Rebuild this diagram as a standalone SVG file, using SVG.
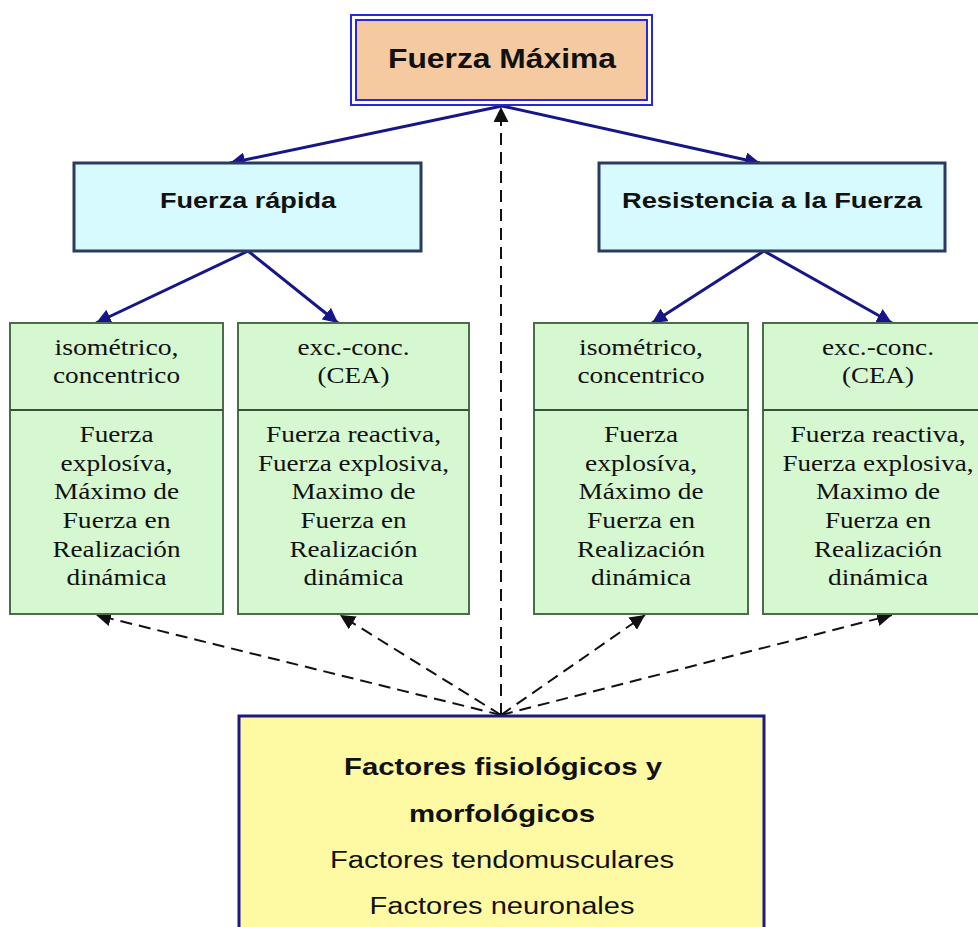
<svg xmlns="http://www.w3.org/2000/svg" width="978" height="927" viewBox="0 0 978 927">
<defs>
<marker id="solidHead" viewBox="0 0 10 10" refX="10" refY="5" markerWidth="5" markerHeight="5" orient="auto" markerUnits="strokeWidth">
<path d="M0,0 L10,5 L0,10 z" fill="#16168a"/>
</marker>
<marker id="dashHead" viewBox="0 0 10 10" refX="10" refY="5" markerWidth="7.5" markerHeight="7.5" orient="auto" markerUnits="strokeWidth">
<path d="M0,0 L10,5 L0,10 z" fill="#111"/>
</marker>
</defs>
<style>
.blue{fill:#d6fafd;stroke:#2a3a60;stroke-width:3}
.green{fill:#d6f8d0;stroke:#4a6e4a;stroke-width:2}
.div{stroke:#3a503a;stroke-width:2}
.sans{font-family:"Liberation Sans",Arial,sans-serif;fill:#111;text-anchor:middle}
.serif{font-family:"Liberation Serif","Times New Roman",serif;font-size:23px;fill:#111;text-anchor:middle}
.b{font-weight:bold}
.solid{stroke:#16168a;stroke-width:3;fill:none;marker-end:url(#solidHead)}
.dash{stroke:#111;stroke-width:2;fill:none;stroke-dasharray:12 7;marker-end:url(#dashHead)}
</style>
<rect width="978" height="927" fill="#fff"/>

<g id="connectors">
<line class="solid" x1="502" y1="106" x2="230" y2="163"/>
<line class="solid" x1="502" y1="106" x2="760" y2="163"/>
<line class="solid" x1="248" y1="251" x2="96" y2="323"/>
<line class="solid" x1="248" y1="251" x2="338" y2="323"/>
<line class="solid" x1="764" y1="251" x2="652" y2="323"/>
<line class="solid" x1="764" y1="251" x2="892" y2="323"/>
<line class="dash" x1="501" y1="715" x2="501" y2="107"/>
<line class="dash" x1="501" y1="715" x2="96" y2="615"/>
<line class="dash" x1="501" y1="715" x2="340" y2="615"/>
<line class="dash" x1="501" y1="715" x2="645" y2="615"/>
<line class="dash" x1="501" y1="715" x2="892" y2="615"/>
</g>

<g id="fuerza-maxima">
<rect x="351" y="15" width="301" height="90" fill="#fff" stroke="#2828d8" stroke-width="2"/>
<rect x="356" y="20" width="291" height="80" fill="#f6caa0" stroke="#2828d8" stroke-width="2"/>
<text class="sans b" x="502" y="68" font-size="28" textLength="228" lengthAdjust="spacingAndGlyphs">Fuerza Máxima</text>
</g>

<g id="fuerza-rapida">
<rect class="blue" x="74" y="163" width="347" height="88"/>
<text class="sans b" x="248" y="208" font-size="22" textLength="176" lengthAdjust="spacingAndGlyphs">Fuerza rápida</text>
</g>

<g id="resistencia">
<rect class="blue" x="599" y="163" width="346" height="88"/>
<text class="sans b" x="772" y="208" font-size="22" textLength="300" lengthAdjust="spacingAndGlyphs">Resistencia a la Fuerza</text>
</g>

<g id="box1">
<rect class="green" x="10" y="323" width="213" height="291"/>
<line class="div" x1="10" y1="410" x2="223" y2="410"/>
<text class="serif" x="116.5" y="355" textLength="124" lengthAdjust="spacingAndGlyphs">isométrico,</text>
<text class="serif" x="116.5" y="383" textLength="127" lengthAdjust="spacingAndGlyphs">concentrico</text>
<text class="serif" x="116.5" y="442" textLength="74" lengthAdjust="spacingAndGlyphs">Fuerza</text>
<text class="serif" x="116.5" y="471" textLength="112" lengthAdjust="spacingAndGlyphs">explosíva,</text>
<text class="serif" x="116.5" y="499" textLength="125" lengthAdjust="spacingAndGlyphs">Máximo de</text>
<text class="serif" x="116.5" y="528" textLength="108" lengthAdjust="spacingAndGlyphs">Fuerza en</text>
<text class="serif" x="116.5" y="557" textLength="128" lengthAdjust="spacingAndGlyphs">Realización</text>
<text class="serif" x="116.5" y="585" textLength="100" lengthAdjust="spacingAndGlyphs">dinámica</text>
</g>

<g id="box2">
<rect class="green" x="238" y="323" width="231" height="291"/>
<line class="div" x1="238" y1="410" x2="469" y2="410"/>
<text class="serif" x="353.5" y="355" textLength="112" lengthAdjust="spacingAndGlyphs">exc.-conc.</text>
<text class="serif" x="353.5" y="383" textLength="72" lengthAdjust="spacingAndGlyphs">(CEA)</text>
<text class="serif" x="353.5" y="442" textLength="175" lengthAdjust="spacingAndGlyphs">Fuerza reactiva,</text>
<text class="serif" x="353.5" y="471" textLength="191" lengthAdjust="spacingAndGlyphs">Fuerza explosiva,</text>
<text class="serif" x="353.5" y="499" textLength="124" lengthAdjust="spacingAndGlyphs">Maximo de</text>
<text class="serif" x="353.5" y="528" textLength="106" lengthAdjust="spacingAndGlyphs">Fuerza en</text>
<text class="serif" x="353.5" y="557" textLength="128" lengthAdjust="spacingAndGlyphs">Realización</text>
<text class="serif" x="353.5" y="585" textLength="100" lengthAdjust="spacingAndGlyphs">dinámica</text>
</g>

<g id="box3">
<rect class="green" x="534" y="323" width="214" height="291"/>
<line class="div" x1="534" y1="410" x2="748" y2="410"/>
<text class="serif" x="641" y="355" textLength="124" lengthAdjust="spacingAndGlyphs">isométrico,</text>
<text class="serif" x="641" y="383" textLength="127" lengthAdjust="spacingAndGlyphs">concentrico</text>
<text class="serif" x="641" y="442" textLength="74" lengthAdjust="spacingAndGlyphs">Fuerza</text>
<text class="serif" x="641" y="471" textLength="112" lengthAdjust="spacingAndGlyphs">explosíva,</text>
<text class="serif" x="641" y="499" textLength="125" lengthAdjust="spacingAndGlyphs">Máximo de</text>
<text class="serif" x="641" y="528" textLength="108" lengthAdjust="spacingAndGlyphs">Fuerza en</text>
<text class="serif" x="641" y="557" textLength="128" lengthAdjust="spacingAndGlyphs">Realización</text>
<text class="serif" x="641" y="585" textLength="100" lengthAdjust="spacingAndGlyphs">dinámica</text>
</g>

<g id="box4">
<rect class="green" x="763" y="323" width="230" height="291"/>
<line class="div" x1="763" y1="410" x2="993" y2="410"/>
<text class="serif" x="878" y="355" textLength="112" lengthAdjust="spacingAndGlyphs">exc.-conc.</text>
<text class="serif" x="878" y="383" textLength="72" lengthAdjust="spacingAndGlyphs">(CEA)</text>
<text class="serif" x="878" y="442" textLength="175" lengthAdjust="spacingAndGlyphs">Fuerza reactiva,</text>
<text class="serif" x="878" y="471" textLength="191" lengthAdjust="spacingAndGlyphs">Fuerza explosiva,</text>
<text class="serif" x="878" y="499" textLength="124" lengthAdjust="spacingAndGlyphs">Maximo de</text>
<text class="serif" x="878" y="528" textLength="106" lengthAdjust="spacingAndGlyphs">Fuerza en</text>
<text class="serif" x="878" y="557" textLength="128" lengthAdjust="spacingAndGlyphs">Realización</text>
<text class="serif" x="878" y="585" textLength="100" lengthAdjust="spacingAndGlyphs">dinámica</text>
</g>

<g id="factores">
<rect x="239" y="716" width="525" height="230" fill="#fefaa4" stroke="#1a1a80" stroke-width="3"/>
<text class="sans b" x="503" y="775" font-size="23" textLength="318" lengthAdjust="spacingAndGlyphs">Factores fisiológicos y</text>
<text class="sans b" x="502" y="822" font-size="23" textLength="186" lengthAdjust="spacingAndGlyphs">morfológicos</text>
<text class="sans" x="502" y="868" font-size="23" textLength="344" lengthAdjust="spacingAndGlyphs">Factores tendomusculares</text>
<text class="sans" x="502" y="914" font-size="23" textLength="265" lengthAdjust="spacingAndGlyphs">Factores neuronales</text>
</g>
</svg>
